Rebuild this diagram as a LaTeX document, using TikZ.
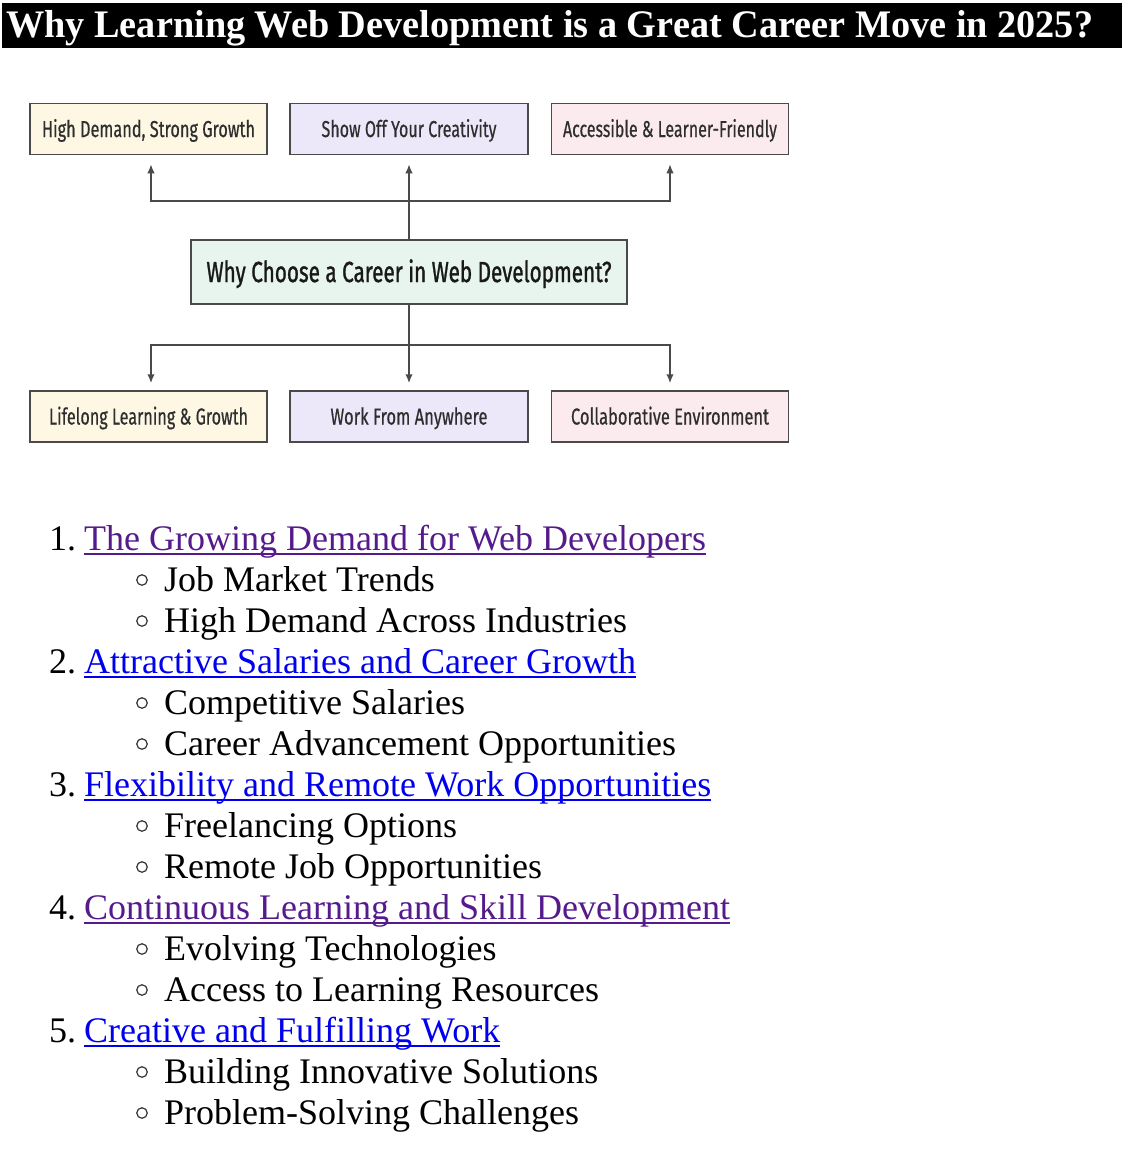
\documentclass[tikz,border=0pt]{standalone}
\usepackage{fontspec}
\setmainfont{Liberation Serif}
\newfontfamily\boxfont[FakeBold=0.6]{Fira Sans}
\newfontfamily\mainboxfont[FakeBold=1.4]{Fira Sans}
\usetikzlibrary{arrows.meta}
\definecolor{cream}{HTML}{FDF7E4}
\definecolor{lav}{HTML}{ECE8FA}
\definecolor{pinkb}{HTML}{FCEBEE}
\definecolor{mint}{HTML}{E8F5EE}
\definecolor{edge}{HTML}{4A4A4A}
\definecolor{btext}{HTML}{2E2E2E}
\definecolor{visited}{HTML}{551A8B}
\definecolor{linkblue}{HTML}{0000EE}
\newsavebox\fitbox
\newcommand\fitw[2]{\sbox\fitbox{#2}\pgfmathsetmacro\fitsx{#1/\the\wd\fitbox}\scalebox{\fitsx}[1]{\usebox\fitbox}}
\tikzset{
  box/.style={draw=edge, line width=1.5pt, minimum height=51pt, inner sep=0pt,
    text height=16pt, text depth=0pt, text=btext, font=\boxfont\fontsize{23}{25}\selectfont},
  mainbox/.style={box, fill=mint, minimum width=436pt, minimum height=64pt, text height=20pt,
    text=black!90, font=\mainboxfont\fontsize{29}{31}\selectfont},
  conn/.style={draw=edge, line width=1.6pt},
  arr/.style={conn, -{Latex[length=9pt,width=7.5pt]}},
  lst/.style={anchor=base west, inner sep=0pt, font=\fontsize{36}{41}\selectfont},
  uline/.style={line width=2pt},
  bul/.style={draw=black!80, line width=1.2pt, circle, inner sep=0pt, minimum size=10.5pt}
}
\begin{document}
\begin{tikzpicture}[x=1pt,y=-1pt]
\useasboundingbox[fill=white] (0,0) rectangle (1122,1164);
% title
\node[fill=black, anchor=north west, minimum width=1120pt, minimum height=45pt, inner sep=0pt] (bar) at (2,3) {};
\node[anchor=base west, inner sep=0pt, text=white, font=\bfseries\fontsize{39}{42}\selectfont] (title) at (6,37.5)
  {\fitw{1087}{Why Learning Web Development is a Great Career Move in 2025?}};
% boxes
\node[box, fill=cream, minimum width=237pt] (t1) at (148.5,129) {\fitw{213}{High Demand, Strong Growth}};
\node[box, fill=lav, minimum width=238pt] (t2) at (409,129) {\fitw{175}{Show Off Your Creativity}};
\node[box, fill=pinkb, minimum width=237pt] (t3) at (670,129) {\fitw{214}{Accessible \& Learner-Friendly}};
\node[mainbox] (c) at (409,272) {\fitw{405}{Why Choose a Career in Web Development?}};
\node[box, fill=cream, minimum width=237pt] (b1) at (148.5,416.5) {\fitw{199}{Lifelong Learning \& Growth}};
\node[box, fill=lav, minimum width=238pt] (b2) at (409,416.5) {\fitw{157}{Work From Anywhere}};
\node[box, fill=pinkb, minimum width=237pt] (b3) at (670,416.5) {\fitw{198}{Collaborative Environment}};
% connectors
\coordinate (ju) at (409,201);
\coordinate (jd) at (409,345);
\draw[conn] (c.north) -- (ju);
\draw[arr] (ju) -| ([xshift=2.5pt,yshift=-9pt]t1.south);
\draw[arr] (ju) -- ([yshift=-9pt]t2.south);
\draw[arr] (ju) -| ([yshift=-9pt]t3.south);
\draw[conn] (c.south) -- (jd);
\draw[arr] (jd) -| ([xshift=2.5pt,yshift=7pt]b1.north);
\draw[arr] (jd) -- ([yshift=7pt]b2.north);
\draw[arr] (jd) -| ([yshift=7pt]b3.north);
% list
\node[lst] (n1) at (49,550) {1.};
\node[lst, text=visited] (l1) at (84,550) {The Growing Demand for Web Developers};
\draw[uline, visited] ([yshift=-3.5pt]l1.base west) -- ([yshift=-3.5pt]l1.base east);
\node[bul] (c11) at (142,580) {};
\node[lst] (s11) at (164,591) {Job Market Trends};
\node[bul] (c12) at (142,621) {};
\node[lst] (s12) at (164,632) {High Demand Across Industries};

\node[lst] (n2) at (49,673) {2.};
\node[lst, text=linkblue] (l2) at (84,673) {Attractive Salaries and Career Growth};
\draw[uline, linkblue] ([yshift=-3.5pt]l2.base west) -- ([yshift=-3.5pt]l2.base east);
\node[bul] (c21) at (142,703) {};
\node[lst] (s21) at (164,714) {Competitive Salaries};
\node[bul] (c22) at (142,744) {};
\node[lst] (s22) at (164,755) {Career Advancement Opportunities};

\node[lst] (n3) at (49,796) {3.};
\node[lst, text=linkblue] (l3) at (84,796) {Flexibility and Remote Work Opportunities};
\draw[uline, linkblue] ([yshift=-3.5pt]l3.base west) -- ([yshift=-3.5pt]l3.base east);
\node[bul] (c31) at (142,826) {};
\node[lst] (s31) at (164,837) {Freelancing Options};
\node[bul] (c32) at (142,867) {};
\node[lst] (s32) at (164,878) {Remote Job Opportunities};

\node[lst] (n4) at (49,919) {4.};
\node[lst, text=visited] (l4) at (84,919) {Continuous Learning and Skill Development};
\draw[uline, visited] ([yshift=-3.5pt]l4.base west) -- ([yshift=-3.5pt]l4.base east);
\node[bul] (c41) at (142,949) {};
\node[lst] (s41) at (164,960) {Evolving Technologies};
\node[bul] (c42) at (142,990) {};
\node[lst] (s42) at (164,1001) {Access to Learning Resources};

\node[lst] (n5) at (49,1042) {5.};
\node[lst, text=linkblue] (l5) at (84,1042) {Creative and Fulfilling Work};
\draw[uline, linkblue] ([yshift=-3.5pt]l5.base west) -- ([yshift=-3.5pt]l5.base east);
\node[bul] (c51) at (142,1072) {};
\node[lst] (s51) at (164,1083) {Building Innovative Solutions};
\node[bul] (c52) at (142,1113) {};
\node[lst] (s52) at (164,1124) {Problem-Solving Challenges};
\end{tikzpicture}
\end{document}
